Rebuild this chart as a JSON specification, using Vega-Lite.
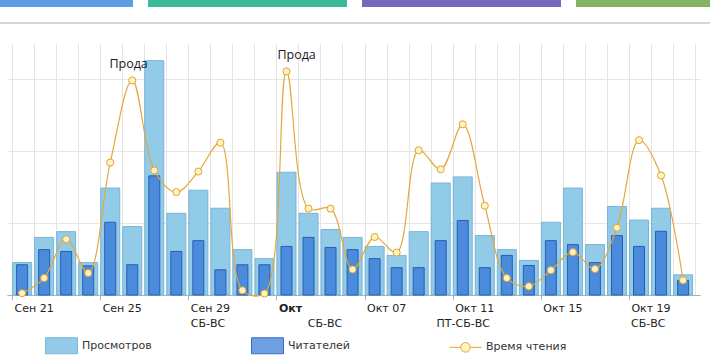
{
  "$schema": "https://vega.github.io/schema/vega-lite/v6.json",
  "background": "white",
  "autosize": {"type": "none"},
  "padding": {"left": 7, "top": 43, "right": 10, "bottom": 68},
  "width": 693,
  "height": 252,
  "config": {"view": {"stroke": null}},
  "resolve": {"scale": {"x": "independent", "y": "independent", "color": "independent"}, "legend": {"color": "independent"}},
  "layer": [
    {
      "data": {"values": [
        {"tab": "a", "from": 0, "to": 133},
        {"tab": "b", "from": 148, "to": 347},
        {"tab": "c", "from": 362, "to": 561},
        {"tab": "d", "from": 576, "to": 710}
      ]},
      "layer": [
        {
          "mark": {"type": "rect", "clip": false},
          "encoding": {
            "x": {"field": "from", "type": "quantitative", "scale": {"domain": [7, 700], "nice": false, "zero": false}, "axis": null},
            "x2": {"field": "to"},
            "y": {"datum": 0, "type": "quantitative", "scale": {"domain": [295, 43], "nice": false, "zero": false}, "axis": null},
            "y2": {"datum": 7},
            "color": {"field": "tab", "type": "nominal", "scale": {"domain": ["a", "b", "c", "d"], "range": ["#5d9de2", "#3cb99a", "#7867ba", "#83b463"]}, "legend": null}
          }
        },
        {
          "mark": {"type": "rule", "color": "#d6d6d6", "strokeWidth": 1.3, "clip": false},
          "encoding": {
            "x": {"datum": 0, "type": "quantitative"},
            "x2": {"datum": 710},
            "y": {"datum": 23, "type": "quantitative"}
          }
        }
      ]
    },
    {
      "data": {"values": [
        {"d": "2024-09-21T11:00:00", "v": 90, "r": 84, "t": 5},
        {"d": "2024-09-22T11:00:00", "v": 160, "r": 126, "t": 47},
        {"d": "2024-09-23T11:00:00", "v": 176, "r": 121, "t": 155},
        {"d": "2024-09-24T11:00:00", "v": 90, "r": 81, "t": 61},
        {"d": "2024-09-25T11:00:00", "v": 297, "r": 202, "t": 368},
        {"d": "2024-09-26T11:00:00", "v": 190, "r": 84, "t": 596},
        {"d": "2024-09-27T11:00:00", "v": 651, "r": 331, "t": 346},
        {"d": "2024-09-28T11:00:00", "v": 227, "r": 121, "t": 286},
        {"d": "2024-09-29T11:00:00", "v": 291, "r": 151, "t": 343},
        {"d": "2024-09-30T11:00:00", "v": 241, "r": 70, "t": 423},
        {"d": "2024-10-01T11:00:00", "v": 126, "r": 84, "t": 13},
        {"d": "2024-10-02T11:00:00", "v": 101, "r": 84, "t": 4},
        {"d": "2024-10-03T11:00:00", "v": 341, "r": 135, "t": 621},
        {"d": "2024-10-04T11:00:00", "v": 227, "r": 160, "t": 240},
        {"d": "2024-10-05T11:00:00", "v": 182, "r": 132, "t": 240},
        {"d": "2024-10-06T11:00:00", "v": 160, "r": 126, "t": 71},
        {"d": "2024-10-07T11:00:00", "v": 135, "r": 101, "t": 161},
        {"d": "2024-10-08T11:00:00", "v": 110, "r": 76, "t": 118},
        {"d": "2024-10-09T11:00:00", "v": 176, "r": 76, "t": 402},
        {"d": "2024-10-10T11:00:00", "v": 311, "r": 151, "t": 349},
        {"d": "2024-10-11T11:00:00", "v": 328, "r": 207, "t": 474},
        {"d": "2024-10-12T11:00:00", "v": 165, "r": 76, "t": 248},
        {"d": "2024-10-13T11:00:00", "v": 126, "r": 110, "t": 47},
        {"d": "2024-10-14T11:00:00", "v": 96, "r": 82, "t": 24},
        {"d": "2024-10-15T11:00:00", "v": 202, "r": 151, "t": 69},
        {"d": "2024-10-16T11:00:00", "v": 297, "r": 140, "t": 119},
        {"d": "2024-10-17T11:00:00", "v": 140, "r": 90, "t": 72},
        {"d": "2024-10-18T11:00:00", "v": 246, "r": 165, "t": 187},
        {"d": "2024-10-19T11:00:00", "v": 208, "r": 135, "t": 430},
        {"d": "2024-10-20T11:00:00", "v": 241, "r": 177, "t": 332},
        {"d": "2024-10-21T11:00:00", "v": 56, "r": 40, "t": 41}
      ]},
      "encoding": {
        "x": {
          "field": "d",
          "type": "temporal",
          "scale": {"domain": [{"year": 2024, "month": 9, "date": 21}, {"year": 2024, "month": 10, "date": 22}], "nice": false},
          "axis": {
            "orient": "bottom",
            "title": null,
            "tickCount": {"interval": "day", "step": 1},
            "grid": true,
            "gridColor": "#e4e4e4",
            "gridWidth": 1,
            "domainColor": "#b0b0b0",
            "tickColor": "#b0b0b0",
            "tickSize": 5,
            "tickOpacity": {"condition": {"test": "round((datum.value - datetime(2024,8,21))/86400000) % 4 == 0 && datum.value <= datetime(2024,9,19)", "value": 1}, "value": 0},
            "labelExpr": "(round((datum.value - datetime(2024,8,21))/86400000) % 4 != 0 || datum.value > datetime(2024,9,20)) ? '' : (month(datum.value) == 8 ? 'Сен ' + timeFormat(datum.value, '%d') : (date(datum.value) == 3 ? 'Окт' : 'Окт ' + timeFormat(datum.value, '%d')))",
            "labelAlign": "left",
            "labelOffset": 2,
            "labelPadding": 2,
            "labelFont": "DejaVu Sans",
            "labelFontSize": 11,
            "labelColor": "#222222",
            "labelFontWeight": {"condition": {"test": "month(datum.value) == 9 && date(datum.value) == 3", "value": "bold"}, "value": "normal"},
            "labelOverlap": false,
            "labelFlush": false,
            "labelBound": false
          }
        }
      },
      "layer": [
        {
          "mark": {"type": "bar", "width": 19, "fill": "#92cbe8", "stroke": "#78b4d8", "strokeWidth": 1},
          "encoding": {
            "y": {
              "field": "v",
              "type": "quantitative",
              "scale": {"domain": [0, 700], "nice": false},
              "axis": {"title": null, "values": [0, 100, 200, 300, 400, 500, 600, 700], "grid": true, "gridColor": "#e4e4e4", "labels": false, "ticks": false, "domain": false}
            }
          }
        },
        {
          "mark": {"type": "bar", "width": 11, "fill": "#4a8bdc", "stroke": "#2a5db2", "strokeWidth": 1},
          "encoding": {
            "y": {"field": "r", "type": "quantitative"}
          }
        },
        {
          "mark": {"type": "line", "interpolate": "catmull-rom", "strokeWidth": 1.2, "stroke": "#e3a83a"},
          "encoding": {
            "y": {"field": "t", "type": "quantitative"}
          }
        },
        {
          "mark": {"type": "point", "size": 0, "opacity": 1},
          "encoding": {
            "y": {"field": "t", "type": "quantitative"},
            "shape": {
              "datum": "Время чтения",
              "type": "nominal",
              "scale": {"domain": ["Просмотров", "Читателей", "Время чтения"], "range": ["M-1,-0.5H1V0.5H-1Z", "M-1,-0.5H1V0.5H-1Z", "M-1,0H-0.3M0.3,0H1M-0.3,0A0.3,0.3 0 1,1 0.3,0A0.3,0.3 0 1,1 -0.3,0Z"]},
              "legend": {"orient": "none", "legendX": 38, "legendY": 286, "direction": "horizontal", "title": null, "symbolSize": 1024, "symbolOpacity": 1, "labelFont": "DejaVu Sans", "labelFontSize": 11, "labelColor": "#333333", "labelOffset": 4, "columnPadding": 97}
            }
          }
        },
        {
          "mark": {"type": "point", "shape": "circle", "filled": true, "size": 50, "opacity": 1},
          "encoding": {
            "y": {"field": "t", "type": "quantitative"},
            "fill": {
              "datum": "Время чтения",
              "type": "nominal",
              "scale": {"domain": ["Просмотров", "Читателей", "Время чтения"], "range": ["#93cbe8", "#6f9fe3", "#fff3c4"]},
              "legend": {"orient": "none", "legendX": 38, "legendY": 286, "direction": "horizontal", "title": null, "symbolSize": 1024, "symbolOpacity": 1, "labelFont": "DejaVu Sans", "labelFontSize": 11, "labelColor": "#333333", "labelOffset": 4, "columnPadding": 97}
            },
            "stroke": {
              "datum": "Время чтения",
              "type": "nominal",
              "scale": {"domain": ["Просмотров", "Читателей", "Время чтения"], "range": ["#7bb6da", "#3f6cc2", "#e2a32d"]},
              "legend": {"orient": "none", "legendX": 38, "legendY": 286, "direction": "horizontal", "title": null, "symbolSize": 1024, "symbolOpacity": 1, "labelFont": "DejaVu Sans", "labelFontSize": 11, "labelColor": "#333333", "labelOffset": 4, "columnPadding": 97}
            },
            "strokeWidth": {
              "datum": "Время чтения",
              "type": "nominal",
              "scale": {"domain": ["Просмотров", "Читателей", "Время чтения"], "range": [1, 1, 2]},
              "legend": {"orient": "none", "legendX": 38, "legendY": 286, "direction": "horizontal", "title": null, "symbolSize": 1024, "symbolOpacity": 1, "labelFont": "DejaVu Sans", "labelFontSize": 11, "labelColor": "#333333", "labelOffset": 4, "columnPadding": 97}
            }
          }
        },
        {
          "data": {"values": [
            {"d": "2024-09-26T07:00:00", "t": 596, "note": "Прода"},
            {"d": "2024-10-03T22:00:00", "t": 621, "note": "Прода"}
          ]},
          "mark": {"type": "text", "dy": -12, "font": "Open Sans", "fontSize": 12.5, "color": "#1a1a1a", "baseline": "alphabetic"},
          "encoding": {
            "y": {"field": "t", "type": "quantitative"},
            "text": {"field": "note"}
          }
        },
        {
          "data": {"values": [
            {"d": "2024-09-29T21:30:00", "lbl": "СБ-ВС"},
            {"d": "2024-10-05T05:00:00", "lbl": "СБ-ВС"},
            {"d": "2024-10-11T11:30:00", "lbl": "ПТ-СБ-ВС"},
            {"d": "2024-10-19T21:00:00", "lbl": "СБ-ВС"}
          ]},
          "mark": {"type": "text", "dy": 32, "font": "DejaVu Sans", "fontSize": 11, "color": "#222222", "baseline": "alphabetic", "align": "center"},
          "encoding": {
            "y": {"datum": 0, "type": "quantitative"},
            "text": {"field": "lbl"}
          }
        }
      ]
    }
  ]
}
